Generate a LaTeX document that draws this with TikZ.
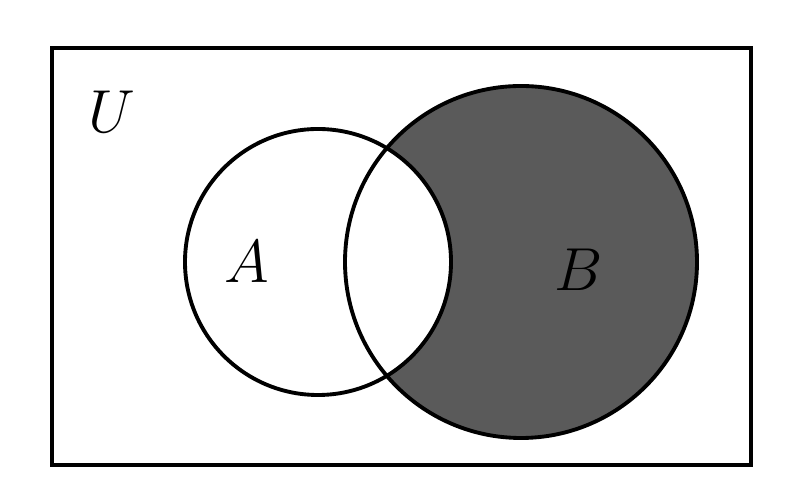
\documentclass[tikz,border=0pt]{standalone}
\usepackage{amsmath, amssymb}
\usepackage{xcolor}
\usepackage{tikz}
\usetikzlibrary{positioning, calc}
\definecolor{setgray}{RGB}{90, 90, 90}

\begin{document}
\begin{tikzpicture}[setline/.style={line width=1.1pt}, setlabel/.style={font=\fontsize{17}{20}\selectfont}]
        \useasboundingbox (0,0) rectangle (8,5);

        \coordinate (cA) at (3.18, 2.38);
        \coordinate (cB) at (5.21, 2.38);

        % B \ A colorato
        \fill[setgray] (cB) circle (1.76);
        \fill[white] (cA) circle (1.33);

        % insiemi
        \draw[setline] (0.52, 0.35) rectangle (7.51, 4.52);
        \draw[setline] (cA) circle (1.33);
        \draw[setline] (cB) circle (1.76);

        \node[setlabel] (labU) at (1.12, 3.88) {$U$};
        \node[setlabel] (labA) at (2.47, 2.38) {$A$};
        \node[setlabel] (labB) at (5.79, 2.30) {$B$};
    \end{tikzpicture}
\end{document}
